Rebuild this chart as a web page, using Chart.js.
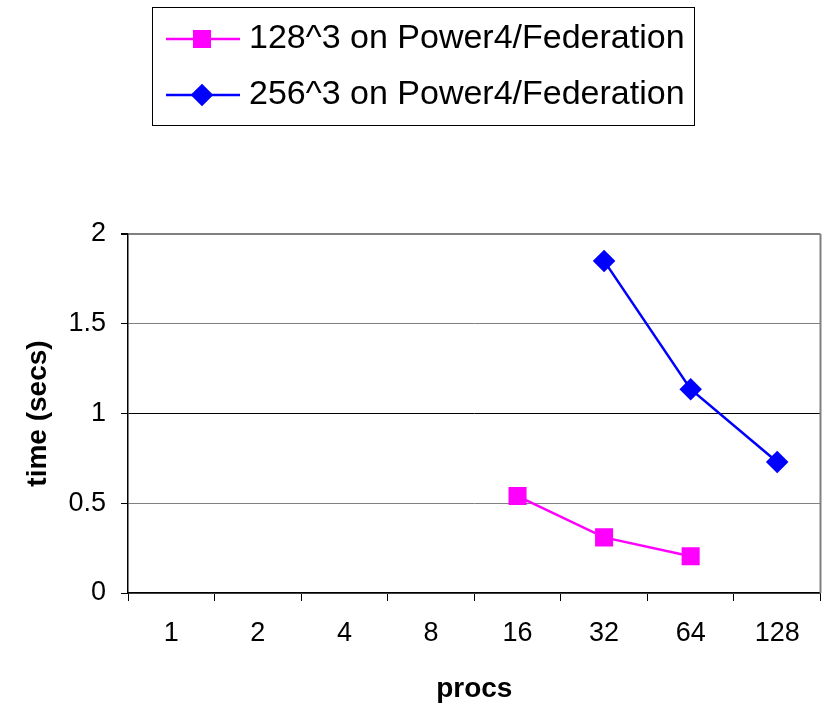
<!DOCTYPE html>
<html>
<head>
<meta charset="utf-8">
<title>time vs procs</title>
<script src="https://cdn.jsdelivr.net/npm/chart.js@4/dist/chart.umd.min.js"></script>
<style>
  html, body { margin: 0; padding: 0; background: #fff; }
  #chart { display: block; }
</style>
</head>
<body>
<canvas id="chart" width="834" height="708"></canvas>
<script>
const procs = ['1', '2', '4', '8', '16', '32', '64', '128'];
const time128 = [null, null, null, null, 0.54, 0.31, 0.205, null];
const time256 = [null, null, null, null, null, 1.85, 1.135, 0.73];
const yTickValues = [0, 0.5, 1, 1.5, 2];

const FONT = '"Liberation Sans", Arial, Helvetica, sans-serif';

// legend box drawn inside the canvas, above the plot (line + marker + label)
const boxLegend = {
  id: 'boxLegend',
  afterDraw(chart) {
    const ctx = chart.ctx;
    const rows = [39, 95];
    ctx.save();
    ctx.strokeStyle = '#000';
    ctx.lineWidth = 1;
    ctx.strokeRect(152.5, 7.5, 542, 118);
    chart.data.datasets.forEach((ds, i) => {
      const y = rows[i];
      ctx.strokeStyle = ds.borderColor;
      ctx.lineWidth = 2.5;
      ctx.beginPath();
      ctx.moveTo(166, y);
      ctx.lineTo(240, y);
      ctx.stroke();
      ctx.fillStyle = ds.pointBackgroundColor;
      ctx.strokeStyle = ds.pointBorderColor;
      Chart.helpers.drawPoint(ctx, {
        pointStyle: ds.pointStyle,
        radius: ds.pointRadius,
        rotation: 0,
        borderWidth: 1,
      }, 202, y);
      ctx.fillStyle = '#000';
      ctx.font = '34px ' + FONT;
      ctx.textAlign = 'left';
      ctx.textBaseline = 'middle';
      ctx.fillText(ds.label, 249, y);
    });
    ctx.restore();
  },
};

// grey right edge of the plot area
const plotFrame = {
  id: 'plotFrame',
  beforeDatasetsDraw(chart) {
    const { ctx, chartArea } = chart;
    ctx.save();
    ctx.strokeStyle = '#808080';
    ctx.lineWidth = 2;
    ctx.beginPath();
    ctx.moveTo(chartArea.right, chartArea.top);
    ctx.lineTo(chartArea.right, chartArea.bottom);
    ctx.stroke();
    ctx.restore();
  },
};

new Chart(document.getElementById('chart'), {
  type: 'line',
  data: {
    labels: procs,
    datasets: [
      {
        label: '128^3 on Power4/Federation',
        data: time128,
        borderColor: '#ff00ff',
        backgroundColor: '#ff00ff',
        pointBackgroundColor: '#ff00ff',
        pointBorderColor: '#ff00ff',
        pointStyle: 'rect',
        pointRadius: 11,
        borderWidth: 2.5,
        tension: 0,
      },
      {
        label: '256^3 on Power4/Federation',
        data: time256,
        borderColor: '#0000ff',
        backgroundColor: '#0000ff',
        pointBackgroundColor: '#0000ff',
        pointBorderColor: '#0000ff',
        pointStyle: 'rectRot',
        pointRadius: 9.5,
        borderWidth: 2.5,
        tension: 0,
      },
    ],
  },
  options: {
    responsive: false,
    animation: false,
    layout: { padding: { top: 234, right: 9, left: 0, bottom: 0 } },
    plugins: {
      legend: { display: false },
      tooltip: { enabled: false },
    },
    scales: {
      x: {
        offset: true,
        grid: {
          offset: true,
          drawOnChartArea: false,
          tickLength: 8,
          tickColor: '#000',
          color: '#000',
        },
        border: { color: '#000', width: 1.5 },
        ticks: {
          color: '#000',
          font: { family: FONT, size: 27 },
          padding: 16,
          maxRotation: 0,
          autoSkip: false,
        },
        title: {
          display: true,
          text: 'procs',
          color: '#000',
          font: { family: FONT, size: 28, weight: 'bold' },
          padding: { top: 0, bottom: 2 },
        },
        afterFit(scale) {
          scale.height = 115;
        },
      },
      y: {
        min: 0,
        max: 2,
        afterBuildTicks(scale) {
          scale.ticks = yTickValues.map((v) => ({ value: v }));
        },
        grid: {
          color: (c) => (c.tick && c.tick.value === 1 ? '#000' : '#808080'),
          lineWidth: (c) => (c.tick && c.tick.value === 2 ? 2 : 1),
          tickLength: 7,
          tickColor: '#000',
        },
        border: { color: '#000', width: 1.5 },
        ticks: {
          color: '#000',
          font: { family: FONT, size: 27 },
          padding: 15,
          callback: (value) => String(value),
        },
        title: {
          display: true,
          text: 'time (secs)',
          color: '#000',
          font: { family: FONT, size: 28, weight: 'bold' },
          padding: { top: 21, bottom: 0 },
        },
        afterFit(scale) {
          scale.width = 128;
        },
      },
    },
  },
  plugins: [boxLegend, plotFrame],
});
</script>
</body>
</html>
